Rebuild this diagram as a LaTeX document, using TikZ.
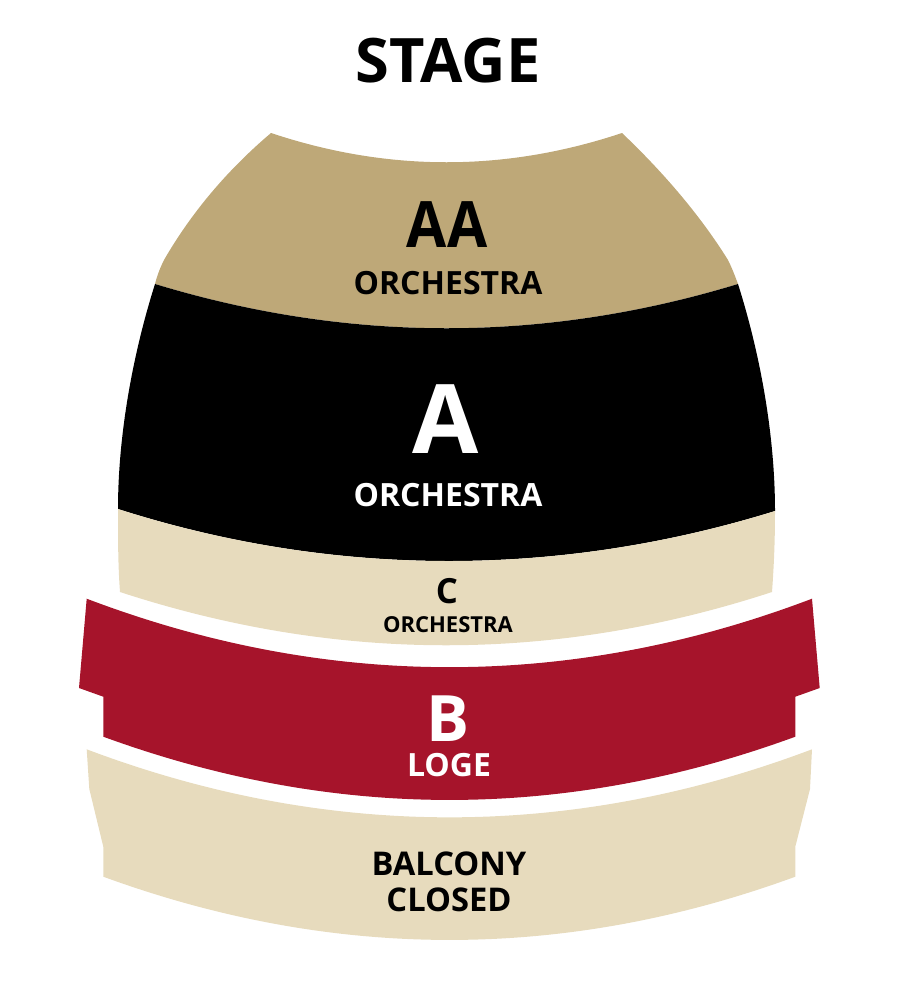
\documentclass[tikz,border=0pt]{standalone}
\usepackage{fontspec}
\setmainfont{Open Sans}
\definecolor{sandtan}{HTML}{BEA878}
\definecolor{creamy}{HTML}{E7DBBD}
\definecolor{logered}{HTML}{A6142B}
\newcommand{\lblsize}[1]{\fontsize{#1}{#1}\selectfont\bfseries}
\begin{document}
\begin{tikzpicture}[x=0.75pt, y=-0.75pt,
  every node/.style={anchor=base, inner sep=0pt, outer sep=0pt},
  bigname/.style={font=\lblsize{48}},
  hugename/.style={font=\lblsize{72}},
  zonename/.style={font=\lblsize{24}},
  closedname/.style={font=\lblsize{24.5}},
  smallname/.style={font=\lblsize{16.5}},
  midname/.style={font=\lblsize{26}}]
\useasboundingbox (0,0) rectangle (900,1000);
% orchestra blocks
\fill[sandtan] (271,133) .. controls (388,172) and (505,172) .. (622,133)
  .. controls (663,172) and (700,215) .. (728,260)
  .. controls (732,268) and (735,276) .. (738,284)
  .. controls (544,343) and (349,343) .. (155,284)
  .. controls (157,276) and (160,268) .. (164,260)
  .. controls (190,215) and (225,172) .. (271,133) -- cycle;
\fill[black] (155,284) .. controls (349,343) and (544,343) .. (738,284)
  .. controls (762,360) and (775,440) .. (775,511)
  .. controls (559,578) and (334,578) .. (118,509)
  .. controls (118,440) and (131,360) .. (155,284) -- cycle;
\fill[creamy] (118,509) .. controls (334,578) and (559,578) .. (775,511)
  .. controls (775,540) and (774,565) .. (772,592)
  .. controls (555,663) and (337,663) .. (120,592)
  .. controls (118,565) and (118,540) .. (118,509) -- cycle;
% loge
\fill[logered] (86.7,598.7) .. controls (327,690) and (572,690) .. (812,598.7)
  -- (819.7,688) -- (795.3,696.7) -- (795.3,736.7)
  .. controls (565,821) and (334,821) .. (103.3,736.7)
  -- (103.3,696.7) -- (79,688) -- cycle;
% balcony
\fill[creamy] (86.7,749.3) .. controls (327,840) and (572,840) .. (812,749.3)
  -- (810,789) -- (795.3,846.7) -- (795.3,876.7)
  .. controls (565,961) and (334,961) .. (103.3,876.7)
  -- (103.3,846.7) -- (89.3,789) -- cycle;
% labels
\node[font=\lblsize{46}] (stage) at (448,82) {STAGE};
\node[bigname] (aa) at (447,247) {\scalebox{0.91}[1]{AA}};
\node[zonename] (aaorch) at (448,294) {ORCHESTRA};
\node[hugename, white] (a) at (445.5,453) {A};
\node[zonename, white] (aorch) at (448,506) {ORCHESTRA};
\node[midname] (c) at (447,603) {C};
\node[smallname] (corch) at (448,632) {ORCHESTRA};
\node[bigname, white] (b) at (448,741) {B};
\node[zonename, white] (loge) at (449,776) {LOGE};
\node[closedname] (balcony) at (449,875.5) {BALCONY};
\node[closedname] (closed) at (449,911) {CLOSED};
\end{tikzpicture}
\end{document}
